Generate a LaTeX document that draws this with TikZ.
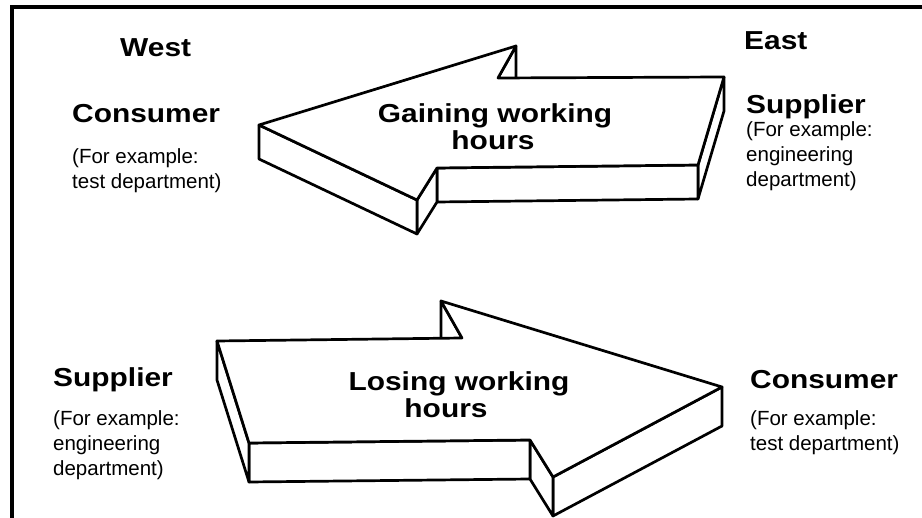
\documentclass[tikz,border=0pt]{standalone}
\usepackage{fontspec}
\setmainfont{Liberation Sans}
\newfontfamily\headfont{Liberation Sans}[FakeStretch=1.15]
\usetikzlibrary{calc}
\begin{document}
\begin{tikzpicture}[x=1pt,y=-1pt,
  face/.style={fill=white,draw=black,line width=2.7pt,line join=round},
  frame/.style={draw=black,line width=4pt,line join=miter},
  head/.style={font=\headfont\bfseries\fontsize{26}{28}\selectfont,inner sep=0pt,anchor=base west},
  arrowlbl/.style={font=\headfont\bfseries\fontsize{26}{28}\selectfont,inner sep=0pt,anchor=base},
  note/.style={font=\fontsize{20.5}{25}\selectfont,inner sep=0pt,anchor=base west}]
\useasboundingbox (0,0) rectangle (922,518);
\fill[white] (0,0) rectangle (922,518);

% page frame (top and left rules)
\draw[frame] (922,7) -- (11.5,7) -- (11.5,518);

% ---- upper block arrow, pointing west ----
\def\gd{34}
\coordinate (gT)  at (259,125);
\coordinate (gU)  at (516,46);
\coordinate (gI1) at (498,78);
\coordinate (gR1) at (724,77);
\coordinate (gR2) at (698,165);
\coordinate (gI2) at (437,168);
\coordinate (gL)  at (417,200);
\foreach \p in {gT,gU,gI1,gR1,gR2,gI2,gL}{\coordinate (\p d) at ($(\p)+(0,\gd)$);}
\filldraw[face] (gU) -- (gI1) -- (gI1d) -- (gUd) -- cycle;
\filldraw[face] (gR1) -- (gR2) -- (gR2d) -- (gR1d) -- cycle;
\filldraw[face] (gR2) -- (gI2) -- (gI2d) -- (gR2d) -- cycle;
\filldraw[face] (gI2) -- (gL) -- (gLd) -- (gI2d) -- cycle;
\filldraw[face] (gL) -- (gT) -- (gTd) -- (gLd) -- cycle;
\filldraw[face] (gT) -- (gU) -- (gI1) -- (gR1) -- (gR2) -- (gI2) -- (gL) -- cycle;

% ---- lower block arrow, pointing east ----
\def\ld{39}
\coordinate (lA)  at (217,341);
\coordinate (lI1) at (462,338);
\coordinate (lU)  at (441,301);
\coordinate (lT)  at (722,387);
\coordinate (lL)  at (553,477);
\coordinate (lI2) at (530,440);
\coordinate (lB)  at (249,443);
\foreach \p in {lA,lI1,lU,lT,lL,lI2,lB}{\coordinate (\p d) at ($(\p)+(0,\ld)$);}
\filldraw[face] (lI1) -- (lU) -- (lUd) -- (lI1d) -- cycle;
\filldraw[face] (lT) -- (lL) -- (lLd) -- (lTd) -- cycle;
\filldraw[face] (lL) -- (lI2) -- (lI2d) -- (lLd) -- cycle;
\filldraw[face] (lI2) -- (lB) -- (lBd) -- (lI2d) -- cycle;
\filldraw[face] (lB) -- (lA) -- (lAd) -- (lBd) -- cycle;
\filldraw[face] (lA) -- (lI1) -- (lU) -- (lT) -- (lL) -- (lI2) -- (lB) -- cycle;

% ---- arrow captions ----
\node[arrowlbl] (gain1) at (495,123) {Gaining working};
\node[arrowlbl] (gain2) at (493,150) {hours};
\node[arrowlbl] (lose1) at (459,391) {Losing working};
\node[arrowlbl] (lose2) at (446,418) {hours};

% ---- west side, top ----
\node[head] (west) at (120,57) {West};
\node[head] (wcons) at (72,123) {Consumer};
\node[note] (wcons1) at (72,164) {(For example:};
\node[note] (wcons2) at (72,189) {test department)};

% ---- east side, top ----
\node[head] (east) at (744,50) {East};
\node[head] (esup) at (746,114) {Supplier};
\node[note] (esup1) at (746,137) {(For example:};
\node[note] (esup2) at (746,162) {engineering};
\node[note] (esup3) at (746,187) {department)};

% ---- west side, bottom ----
\node[head] (bsup) at (53,387) {Supplier};
\node[note] (bsup1) at (53,426) {(For example:};
\node[note] (bsup2) at (53,451) {engineering};
\node[note] (bsup3) at (53,476) {department)};

% ---- east side, bottom ----
\node[head] (bcons) at (750,389) {Consumer};
\node[note] (bcons1) at (750,426) {(For example:};
\node[note] (bcons2) at (750,451) {test department)};
\end{tikzpicture}
\end{document}
